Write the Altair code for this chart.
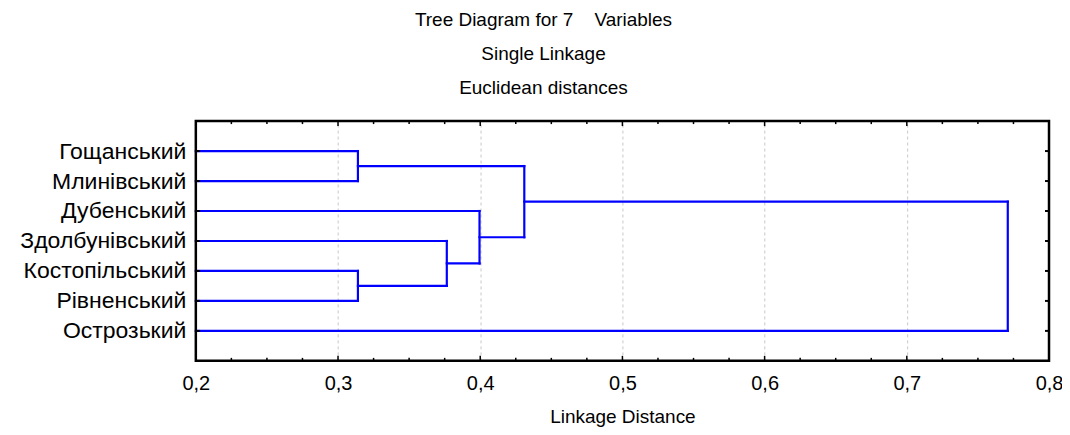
import json
import altair as alt
import pandas as pd

# ---- data ----
leaf_names = ["Гощанський", "Млинівський", "Дубенський", "Здолбунівський",
              "Костопільський", "Рівненський", "Острозький"]
# cluster joins: children are leaves ("L<i>") or earlier joins ("M<i>")
merge_a = ["L0", "L4", "L3", "L2", "M0", "M4"]
merge_b = ["L1", "L5", "M1", "M2", "M3", "L6"]
merge_dist = [0.314, 0.314, 0.3765, 0.3995, 0.431, 0.771]

x_major = [0.2, 0.3, 0.4, 0.5, 0.6, 0.7, 0.8]
x_minor = [0.225, 0.25, 0.275, 0.325, 0.35, 0.375, 0.425, 0.45, 0.475,
           0.525, 0.55, 0.575, 0.625, 0.65, 0.675, 0.725, 0.75, 0.775]
leaf_pos = [1, 2, 3, 4, 5, 6, 7]

X_MIN, X_MAX = 0.2, 0.8
W, H = 854, 240
FONT = "Liberation Sans"

# ---- build dendrogram segments from the joins ----
pos = {}
for i, p in enumerate(leaf_pos):
    pos["L%d" % i] = (X_MIN, p)
segs = []
for k, (a, b, d) in enumerate(zip(merge_a, merge_b, merge_dist)):
    xa, ya = pos[a]
    xb, yb = pos[b]
    segs.append({"x": xa, "x2": d, "y": ya, "y2": ya})
    segs.append({"x": xb, "x2": d, "y": yb, "y2": yb})
    segs.append({"x": d, "x2": d, "y": ya, "y2": yb})
    pos["M%d" % k] = (d, (ya + yb) / 2)
seg_df = pd.DataFrame(segs)

xscale = alt.Scale(domain=[X_MIN, X_MAX], nice=False, zero=False)
yscale = alt.Scale(domain=[0, 8], reverse=True, nice=False, zero=False)

label_expr_y = json.dumps(leaf_names, ensure_ascii=False) + "[datum.value - 1]"

x_axis = alt.Axis(
    values=x_major, labelExpr="replace(format(datum.value, '.1f'), '.', ',')",
    title="Linkage Distance", ticks=False, domain=False, grid=True,
    gridDash=[3, 3], gridColor="#c8c8c8", gridWidth=1,
    labelFontSize=20, titleFontSize=19, titleFontWeight="normal",
    labelPadding=13, titlePadding=14, labelColor="black", titleColor="black",
    labelFlush=False, labelBound=False, labelOverlap=False,
    labelFont=FONT, titleFont=FONT)
y_axis = alt.Axis(
    values=leaf_pos, labelExpr=label_expr_y, title=None, ticks=False,
    domain=False, grid=False, labelFontSize=23, labelPadding=10,
    labelColor="black", labelFont=FONT, labelOverlap=False)

lines = alt.Chart(seg_df).mark_rule(color="#0000ff", strokeWidth=2.2, strokeCap="square").encode(
    x=alt.X("x:Q", scale=xscale, axis=x_axis),
    x2="x2:Q",
    y=alt.Y("y:Q", scale=yscale, axis=y_axis),
    y2="y2:Q",
)

maj_df = pd.DataFrame({"x": x_major})
min_df = pd.DataFrame({"x": x_minor})
leaf_df = pd.DataFrame({"y": leaf_pos})

def xticks(df, y0, y1):
    return alt.Chart(df).mark_rule(color="black", strokeWidth=1.5).encode(
        x=alt.X("x:Q", scale=xscale, axis=x_axis), y=alt.value(y0), y2=alt.value(y1))

def yticks(x0, x1):
    return alt.Chart(leaf_df).mark_rule(color="black", strokeWidth=2).encode(
        y=alt.Y("y:Q", scale=yscale, axis=y_axis), x=alt.value(x0), x2=alt.value(x1))

frame = alt.Chart(pd.DataFrame({"x": [X_MIN]})).mark_rect(
    fill=None, stroke="black", strokeWidth=2.5).encode(
    x=alt.value(0), x2=alt.value(W), y=alt.value(0), y2=alt.value(H))

NB = "\u00a0"
chart = alt.layer(
    lines,
    xticks(maj_df, H, H - 5), xticks(min_df, H, H - 3),
    xticks(maj_df, 0, 5), xticks(min_df, 0, 3),
    yticks(0, 4), yticks(W, W - 4),
    frame,
).properties(
    width=W, height=H,
    background="white",
    autosize=alt.AutoSizeParams(type="none"),
    padding={"left": 188, "top": 113, "right": 13, "bottom": 66},
    title=alt.TitleParams(
        text=["Tree Diagram for 7" + NB * 4 + "Variables", "Single Linkage", "Euclidean distances"],
        fontSize=19, font=FONT, fontWeight="normal", color="black",
        lineHeight=34, anchor="middle", dx=-79, offset=22),
).configure_view(stroke=None)

chart.save("out.html", embed_options={"renderer": "svg", "actions": False})
